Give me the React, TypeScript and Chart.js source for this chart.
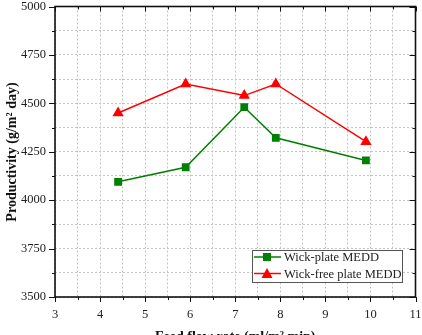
import React, { useEffect, useRef } from "react";
import { Chart, registerables } from "chart.js";

Chart.register(...registerables);

const flowRates = [4.4, 5.9, 7.2, 7.9, 9.9];
const wickPlate = [4095, 4170, 4480, 4322, 4205];
const wickFree = [4450, 4600, 4540, 4600, 4302];
const seriesNames = ["Wick-plate MEDD", "Wick-free plate MEDD"];
const seriesColors = ["#008000", "#ff0000"];
const xTitle = "Feed flow rate (ml/m\u00B2 min)";
const yTitle = "Productivity (g/m\u00B2 day)";

const FONT = "'Liberation Serif', 'Times New Roman', serif";

const framePlugin = {
  id: "frame",
  afterDraw(chart: any) {
    const { ctx, chartArea: a, scales } = chart;
    const xs = scales.x;
    const ys = scales.y;
    ctx.save();
    // frame
    ctx.strokeStyle = "#111";
    ctx.lineWidth = 1.6;
    ctx.strokeRect(a.left, a.top, a.right - a.left, a.bottom - a.top);
    // ticks
    ctx.lineWidth = 1;
    for (let v = 3; v <= 11.001; v += 0.5) {
      const px = Math.round(xs.getPixelForValue(v)) + 0.5;
      const major = Math.abs(v - Math.round(v)) < 1e-6;
      const len = major ? 5 : 3;
      ctx.beginPath();
      ctx.moveTo(px, a.bottom);
      ctx.lineTo(px, a.bottom + len);
      ctx.moveTo(px, a.top);
      ctx.lineTo(px, a.top + len);
      ctx.stroke();
    }
    for (let v = 3500; v <= 5000; v += 125) {
      const py = Math.round(ys.getPixelForValue(v)) + 0.5;
      const major = v % 250 === 0;
      const len = major ? 6 : 3;
      ctx.beginPath();
      ctx.moveTo(a.left, py);
      ctx.lineTo(a.left - len, py);
      ctx.moveTo(a.right, py);
      ctx.lineTo(a.right - len, py);
      ctx.stroke();
    }
    // axis titles
    ctx.fillStyle = "#111";
    ctx.font = `bold 14px ${FONT}`;
    ctx.textAlign = "center";
    ctx.textBaseline = "top";
    ctx.fillText(xTitle, (a.left + a.right) / 2, 330);
    ctx.save();
    ctx.translate(12, 152);
    ctx.rotate(-Math.PI / 2);
    ctx.textBaseline = "middle";
    ctx.fillText(yTitle, 0, 0);
    ctx.restore();
    // legend
    const lx = 252, ly = 250, lw = 150, lh = 32;
    ctx.fillStyle = "#fff";
    ctx.fillRect(lx, ly, lw, lh);
    ctx.strokeStyle = "#555";
    ctx.lineWidth = 1;
    ctx.strokeRect(lx + 0.5, ly + 0.5, lw, lh);
    ctx.font = `12.5px ${FONT}`;
    ctx.textAlign = "left";
    ctx.textBaseline = "middle";
    seriesNames.forEach((name, i) => {
      const cy = ly + 7 + i * 16.5;
      ctx.strokeStyle = seriesColors[i];
      ctx.lineWidth = 1.5;
      ctx.beginPath();
      ctx.moveTo(lx + 2, cy);
      ctx.lineTo(lx + 29, cy);
      ctx.stroke();
      ctx.fillStyle = seriesColors[i];
      const mx = lx + 15;
      if (i === 0) {
        ctx.fillRect(mx - 4, cy - 4, 8, 8);
      } else {
        ctx.beginPath();
        ctx.moveTo(mx, cy - 5.5);
        ctx.lineTo(mx + 5.5, cy + 4.5);
        ctx.lineTo(mx - 5.5, cy + 4.5);
        ctx.closePath();
        ctx.fill();
      }
      ctx.fillStyle = "#222";
      ctx.fillText(name, lx + 32, cy + 1);
    });
    ctx.restore();
  },
};

export default function App() {
  const ref = useRef<HTMLCanvasElement>(null);
  useEffect(() => {
    document.body.style.margin = "0";
    document.body.style.overflow = "hidden";
    const chart = new Chart(ref.current as HTMLCanvasElement, {
      type: "line",
      data: {
        datasets: [
          {
            label: seriesNames[0],
            data: flowRates.map((x, i) => ({ x, y: wickPlate[i] })),
            borderColor: seriesColors[0],
            backgroundColor: seriesColors[0],
            borderWidth: 1.5,
            pointStyle: "rect",
            pointRadius: 5.5,
            pointBorderWidth: 0,
          },
          {
            label: seriesNames[1],
            data: flowRates.map((x, i) => ({ x, y: wickFree[i] })),
            borderColor: seriesColors[1],
            backgroundColor: seriesColors[1],
            borderWidth: 1.5,
            pointStyle: "triangle",
            pointRadius: 6.5,
            pointBorderWidth: 0,
          },
        ],
      },
      options: {
        responsive: false,
        animation: false,
        layout: { padding: { left: 0, right: 6, top: 6, bottom: 0 } },
        plugins: { legend: { display: false }, tooltip: { enabled: false } },
        scales: {
          x: {
            type: "linear",
            min: 3,
            max: 11,
            afterFit: (s: any) => {
              s.height = 53;
              s.paddingLeft = 0;
              s.paddingRight = 0;
            },
            ticks: {
              stepSize: 0.5,
              autoSkip: false,
              maxRotation: 0,
              padding: 10,
              color: "#222",
              font: { family: FONT, size: 12.5 },
              callback: (v: any) => (Number.isInteger(v) ? String(v) : ""),
            },
            grid: { color: "#c4c4c4", lineWidth: 1, drawTicks: false },
            border: { display: false, dash: [2, 2] },
          },
          y: {
            min: 3500,
            max: 5000,
            afterFit: (s: any) => {
              s.width = 55;
              s.paddingTop = 0;
              s.paddingBottom = 0;
            },
            ticks: {
              stepSize: 125,
              autoSkip: false,
              padding: 9,
              color: "#222",
              font: { family: FONT, size: 12.5 },
              callback: (v: any) => (v % 250 === 0 ? String(v) : ""),
            },
            grid: { color: "#c4c4c4", lineWidth: 1, drawTicks: false },
            border: { display: false, dash: [2, 2] },
          },
        },
      },
      plugins: [framePlugin],
    });
    return () => chart.destroy();
  }, []);
  return (
    <div style={{ width: 422, height: 335, overflow: "hidden" }}>
      <canvas ref={ref} width={422} height={350} />
    </div>
  );
}
